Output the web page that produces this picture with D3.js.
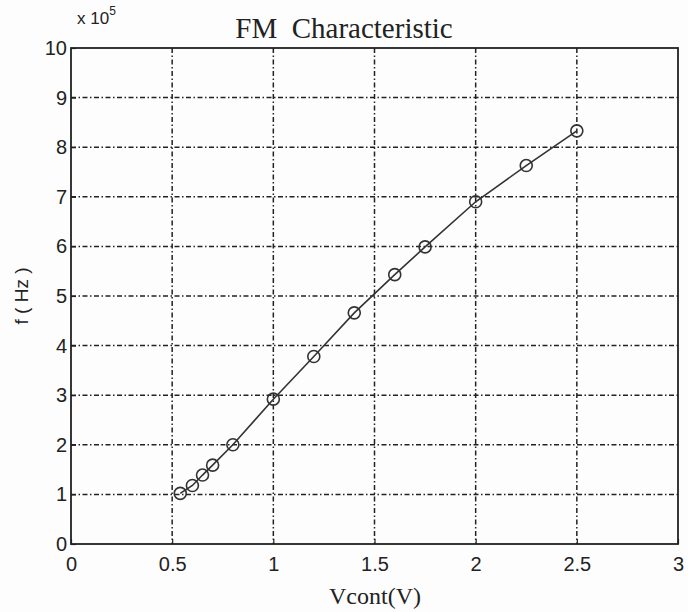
<!DOCTYPE html>
<html>
<head>
<meta charset="utf-8">
<script src="https://cdn.jsdelivr.net/npm/d3@7"></script>
<style>
  body { margin: 0; background: #fdfdfd; }
  svg { display: block; }
  .tick text { font-family: "Liberation Sans", Arial, sans-serif; font-size: 20px; fill: #222; }
  .grid line { stroke: #222; stroke-width: 1.5; stroke-dasharray: 5,2.5,1.5,2.5; }
</style>
</head>
<body>
<svg id="chart" width="688" height="612"></svg>
<script>
// control voltage (V)
const vcont = [0.54, 0.6, 0.65, 0.7, 0.8, 1.0, 1.2, 1.4, 1.6, 1.75, 2.0, 2.25, 2.5]
// frequency in units of 1e5 Hz
const freq = [1.02, 1.18, 1.39, 1.59, 2.0, 2.92, 3.78, 4.66, 5.43, 5.99, 6.9, 7.63, 8.33]
const xTicks = [0, 0.5, 1, 1.5, 2, 2.5, 3]
const yTicks = [0, 1, 2, 3, 4, 5, 6, 7, 8, 9, 10]

const margin = { top: 48, right: 10, bottom: 68, left: 71 }
const width = 688 - margin.left - margin.right
const height = 612 - margin.top - margin.bottom

const svg = d3.select('#chart')
const g = svg.append('g')
  .attr('id', 'graph-g')
  .attr('transform', `translate(${margin.left},${margin.top})`)

const x = d3.scaleLinear().domain([0, 3]).range([0, width])
const y = d3.scaleLinear().domain([0, 10]).range([height, 0])

// grid lines (skip the ones on the frame)
g.append('g').attr('class', 'grid')
  .selectAll('line')
  .data(xTicks.slice(1, -1))
  .join('line')
  .attr('x1', d => x(d)).attr('x2', d => x(d))
  .attr('y1', 0).attr('y2', height)

g.append('g').attr('class', 'grid')
  .selectAll('line')
  .data(yTicks.slice(1, -1))
  .join('line')
  .attr('x1', 0).attr('x2', width)
  .attr('y1', d => y(d)).attr('y2', d => y(d))

// axes
const xAxis = g.append('g')
  .attr('transform', `translate(0,${height})`)
  .call(d3.axisBottom(x).tickValues(xTicks).tickSize(-5).tickPadding(13).tickFormat(d3.format('')))
const yAxis = g.append('g')
  .call(d3.axisLeft(y).tickValues(yTicks).tickSize(-5).tickPadding(4).tickFormat(d3.format('')))
xAxis.select('.domain').remove()
yAxis.select('.domain').remove()
svg.selectAll('.tick line').attr('stroke', '#222').attr('stroke-width', 1.2)

// frame
g.append('rect')
  .attr('width', width).attr('height', height)
  .attr('fill', 'none').attr('stroke', '#222').attr('stroke-width', 1.8)

// curve
const pts = vcont.map((v, i) => [v, freq[i]])
g.append('path')
  .datum(pts)
  .attr('fill', 'none')
  .attr('stroke', '#333')
  .attr('stroke-width', 1.6)
  .attr('d', d3.line().x(d => x(d[0])).y(d => y(d[1])))

g.selectAll('.pt')
  .data(pts)
  .join('circle')
  .attr('class', 'pt')
  .attr('cx', d => x(d[0])).attr('cy', d => y(d[1]))
  .attr('r', 6)
  .attr('fill', 'none').attr('stroke', '#333').attr('stroke-width', 1.6)

// labels
svg.append('text')
  .attr('x', 344).attr('y', 38)
  .attr('text-anchor', 'middle')
  .style('font-family', '"Liberation Serif", "Times New Roman", serif')
  .style('font-size', '29px').style('fill', '#222')
  .text('FM\u00a0\u00a0Characteristic')

const exp = svg.append('text')
  .attr('x', 77).attr('y', 24)
  .style('font-family', '"Liberation Sans", Arial, sans-serif')
  .style('font-size', '17px').style('fill', '#222')
exp.append('tspan').text('x 10')
exp.append('tspan').attr('dy', -9).style('font-size', '12px').text('5')

svg.append('text')
  .attr('x', 375).attr('y', 604)
  .attr('text-anchor', 'middle')
  .style('font-family', '"Liberation Serif", "Times New Roman", serif')
  .style('font-size', '24px').style('fill', '#222')
  .text('Vcont(V)')

svg.append('text')
  .attr('transform', 'translate(28,296) rotate(-90)')
  .attr('text-anchor', 'middle')
  .style('font-family', '"Liberation Sans", Arial, sans-serif')
  .style('font-size', '19px').style('fill', '#222')
  .text('f ( Hz )')
</script>
</body>
</html>
